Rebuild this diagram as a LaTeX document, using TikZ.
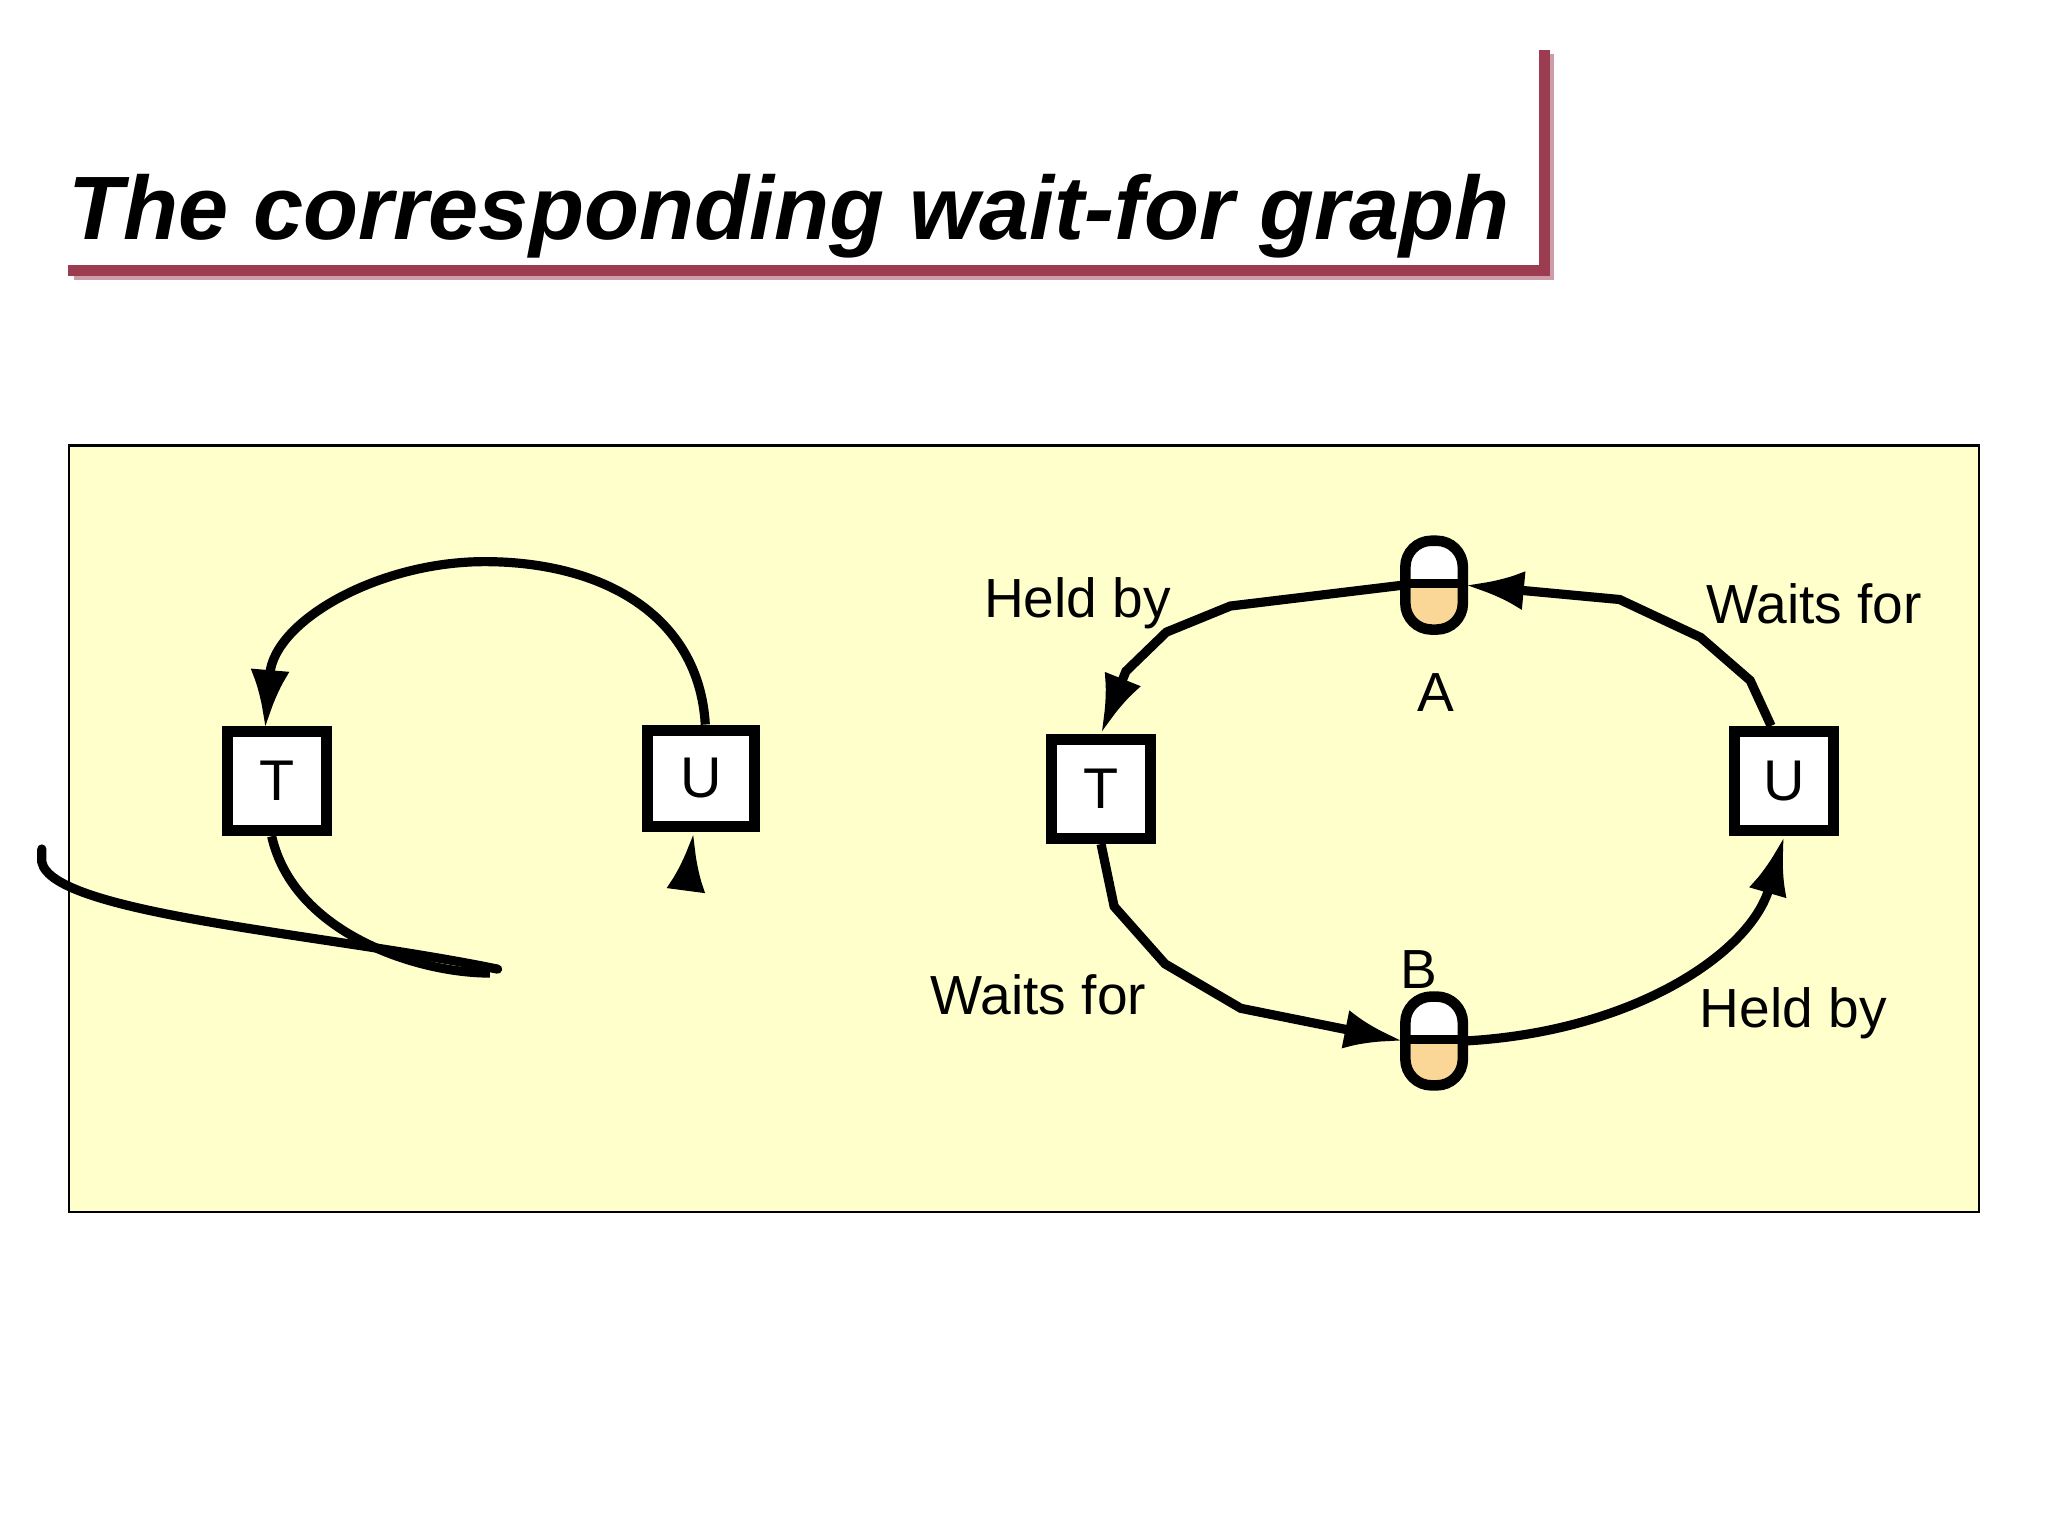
\documentclass[tikz,border=0pt]{standalone}
\usepackage{fontspec}
\setmainfont{Liberation Sans}
\usepackage{tikz}
\usetikzlibrary{arrows.meta,positioning,calc}
\definecolor{titlered}{RGB}{155,60,80}
\definecolor{panel}{RGB}{255,255,204}
\definecolor{fillorange}{RGB}{250,215,150}

\begin{document}
\begin{tikzpicture}[
  x=0.01cm, y=-0.01cm,
  proc/.style={draw, line width=2.4pt, fill=white, minimum width=0.76cm, minimum height=0.76cm, inner sep=0pt, font=\fontsize{12.5}{15}\selectfont},
  res/.style={draw=none, minimum width=0.46cm, minimum height=0.72cm, inner sep=0pt},
  lab/.style={inner sep=1pt, font=\fontsize{12}{15}\selectfont},
  wire/.style={line width=2pt, -{Latex[length=4.5mm,width=3mm]}}
]
\useasboundingbox (0,0) rectangle (1568,1176);

% title
\fill[titlered!50] (57,207) rectangle (1190,214);
\fill[titlered!50] (1182,41) rectangle (1190,214);
\fill[titlered] (52,203) rectangle (1187,211);
\fill[titlered] (1178,38) rectangle (1187,211);
\node[anchor=base west, inner sep=0pt, font=\fontsize{19.6}{23}\selectfont\bfseries\itshape] (title) at (52,183) {The corresponding wait-for graph};

% panel
\draw[fill=panel, line width=0.5pt] (53,341) rectangle (1515,928);

% left graph
\node[proc] (tl) at (212,598) {T};
\node[proc, minimum width=0.82cm, minimum height=0.74cm] (ul) at (537,596) {U};
\coordinate (ta) at (203,558);
\draw[wire] (ul.north) ++(3,0) .. controls (535,470) and (460,430) .. (371,430)
  .. controls (290,430) and (210,475) .. (ta);
\draw[line width=2pt] (tl.south) ++(-4,0) .. controls (225,715) and (320,745) .. (375,745);
\draw[line width=2pt, line cap=round] (381,742) .. controls (250,715) and (40,700) .. (32,660) -- (32,650);
\coordinate (ub) at (528,660);
\draw[wire] (ub) -- (ul.south -| 531,0);

% right graph
\node[proc] (tr) at (843,604) {T};
\node[proc] (ur) at (1366,598) {U};
\foreach \n/\y in {ra/448, rb/797}{
  \node[res] (\n) at (1098,\y) {};
  \fill[white] ($(\n)+(-18,-30)$) rectangle ($(\n)+(18,0)$);
  \fill[fillorange] ($(\n)+(-18,0)$) rectangle ($(\n)+(18,30)$);
  \draw[line width=2.3pt, rounded corners=0.2cm] ($(\n)+(-22,-34)$) rectangle ($(\n)+(22,34)$);
  \draw[line width=2pt] ($(\n)+(-22,-1)$) -- ($(\n)+(26,-1)$);
}
\node[lab] (heldA) at (825,462) {Held by};
\node[lab] (nameA) at (1099,530) {A};
\node[lab] (waitU) at (1389,462) {Waits for};
\node[lab] (waitT) at (795,762) {Waits for};
\node[lab] (nameB) at (1086,742) {B};
\node[lab] (heldB) at (1373,776) {Held by};

\draw[wire] (ra.west) -- (942,464) -- (893,484) -- (862,514) -- (tr.north);
\draw[wire] (ur.north) ++(-10,0) -- (1340,521) -- (1302,488) -- (1240,459) -- (ra.east);
\draw[wire] (tr.south) -- (853,694) -- (892,738) -- (950,772) -- (rb.west);
\draw[wire] (rb.east) .. controls (1250,790) and (1340,730) .. (ur.south);
\end{tikzpicture}
\end{document}
